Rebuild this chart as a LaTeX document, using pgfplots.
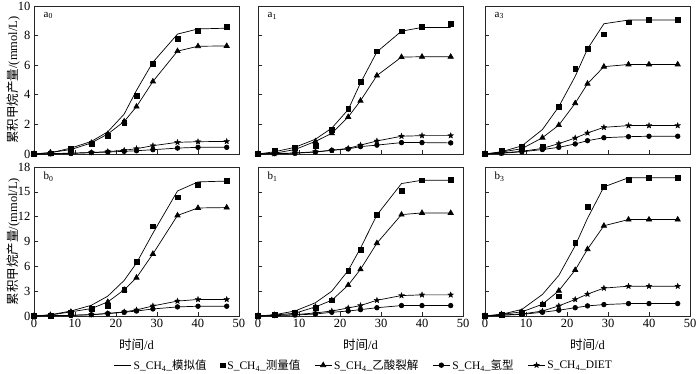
\documentclass[border=0pt]{standalone}
\usepackage{fontspec}
\setmainfont{Liberation Serif}
\newfontfamily\cjk{Noto Sans CJK SC}
\usepackage{pgfplots}
\pgfplotsset{compat=1.18}
\usepackage{pgfplotstable}

\pgfdeclareplotmark{fstar}{%
\pgfpathmoveto{\pgfpointpolar{90}{\pgfplotmarksize}}%
\pgfpathlineto{\pgfpointpolar{126}{0.42*\pgfplotmarksize}}%
\pgfpathlineto{\pgfpointpolar{162}{\pgfplotmarksize}}%
\pgfpathlineto{\pgfpointpolar{198}{0.42*\pgfplotmarksize}}%
\pgfpathlineto{\pgfpointpolar{234}{\pgfplotmarksize}}%
\pgfpathlineto{\pgfpointpolar{270}{0.42*\pgfplotmarksize}}%
\pgfpathlineto{\pgfpointpolar{306}{\pgfplotmarksize}}%
\pgfpathlineto{\pgfpointpolar{342}{0.42*\pgfplotmarksize}}%
\pgfpathlineto{\pgfpointpolar{18}{\pgfplotmarksize}}%
\pgfpathlineto{\pgfpointpolar{54}{0.42*\pgfplotmarksize}}%
\pgfpathclose\pgfusepathqfillstroke}

% t = time (d); m = model; s = measured; a = acetoclastic; h = hydrogenotrophic; d = DIET
\pgfplotstableread{
t m s a h d
0 0 0 0 0 0
4 0.08 0.05 0.10 0.01 0.02
9 0.40 0.35 0.30 0.04 0.06
14 0.85 0.70 0.75 0.09 0.10
18 1.50 1.25 1.35 0.13 0.16
22 2.70 2.10 2.20 0.18 0.25
25 4.30 3.95 3.20 0.22 0.36
29 6.20 6.10 4.90 0.29 0.56
35 8.10 7.80 6.95 0.40 0.79
40 8.45 8.35 7.28 0.45 0.83
47 8.50 8.58 7.30 0.45 0.85
}\tabAz
\pgfplotstableread{
t m s a h d
0 0 0 0 0 0
4 0.15 0.25 0.05 0.02 0.03
9 0.45 0.40 0.30 0.05 0.07
14 1.00 0.55 0.85 0.13 0.15
18 1.75 1.65 1.40 0.25 0.25
22 3.00 3.07 2.50 0.34 0.38
25 4.80 4.90 3.60 0.50 0.60
29 6.90 6.95 5.30 0.60 0.88
35 8.30 8.30 6.55 0.77 1.20
40 8.55 8.60 6.57 0.77 1.24
47 8.55 8.80 6.57 0.75 1.24
}\tabAo
\pgfplotstableread{
t m s a h d
0 0 0 0 0 0
4 0.15 0.25 0.13 0.05 0.07
9 0.55 0.47 0.36 0.15 0.18
14 1.65 0.50 1.10 0.30 0.38
18 3.20 3.17 1.95 0.45 0.70
22 5.25 5.77 3.43 0.68 1.08
25 7.10 7.10 4.75 0.90 1.42
29 8.80 8.10 5.90 1.10 1.80
35 9.05 8.90 6.05 1.17 1.92
40 9.05 9.07 6.05 1.20 1.92
47 9.05 9.07 6.05 1.20 1.92
}\tabAt
\pgfplotstableread{
t m s a h d
0 0 0 0 0 0
4 0.15 0.08 0.12 0.03 0.04
9 0.60 0.37 0.50 0.08 0.08
14 1.30 0.85 0.90 0.15 0.17
18 2.40 1.22 1.70 0.30 0.30
22 4.30 3.20 3.17 0.45 0.50
25 6.40 6.60 4.63 0.60 0.73
29 10.0 10.85 7.50 0.85 1.22
35 15.1 14.35 12.15 1.10 1.80
40 16.2 15.90 13.05 1.18 2.00
47 16.3 16.35 13.10 1.18 2.00
}\tabBz
\pgfplotstableread{
t m s a h d
0 0 0 0 0 0
4 0.15 0.16 0.12 0.05 0.08
9 0.60 0.45 0.33 0.12 0.16
14 1.60 0.97 1.10 0.24 0.37
18 3.00 1.90 1.90 0.45 0.60
22 5.50 5.48 3.73 0.60 0.97
25 8.20 8.00 5.64 0.77 1.26
29 12.2 12.25 8.80 1.00 1.90
35 16.0 15.10 12.25 1.26 2.47
40 16.4 16.40 12.45 1.26 2.55
47 16.4 16.50 12.45 1.26 2.55
}\tabBo
\pgfplotstableread{
t m s a h d
0 0 0 0 0 0
4 0.20 0.20 0.20 0.08 0.12
9 0.80 0.37 0.50 0.20 0.24
14 2.60 1.42 1.42 0.45 0.60
18 4.90 2.40 3.05 0.70 1.22
22 8.50 8.90 5.56 1.00 2.00
25 11.8 13.25 8.07 1.22 2.64
29 15.6 15.60 10.90 1.38 3.37
35 16.7 16.45 11.65 1.50 3.60
40 16.7 16.70 11.65 1.50 3.60
47 16.7 16.70 11.65 1.50 3.60
}\tabBt

\pgfplotsset{
  panel/.style={scale only axis, width=205pt, xmin=0, xmax=50, ymin=0,
    xtick={0,10,20,30,40,50}, tick pos=left, tick align=inside,
    major tick length=4pt,
    axis line style={black!85, line width=0.6pt},
    every tick/.style={black!85, line width=0.6pt},
    tick label style={font=\fontsize{12.5}{12.5}\selectfont},
    /pgf/number format/assume math mode=true, clip=false,
    every axis y label/.style={at={(axis description cs:-0.102,0.5)}, rotate=90, anchor=center, font=\fontsize{12.5}{14}\selectfont},
    every axis x label/.style={at={(axis description cs:0.5,-0.195)}, anchor=center, font=\fontsize{12.5}{14}\selectfont}},
  toprow/.style={panel, height=148pt, ymax=10, ytick={0,2,4,6,8,10}, xticklabels={}},
  botrow/.style={panel, height=149pt, ymax=18, ytick={0,3,6,9,12,15,18}, xlabel={{\cjk 时间}/d}},
  noy/.style={yticklabels={}},
  ylab/.style={ylabel={{\cjk 累积甲烷产量}/(mmol/L)}},
  mline/.style={black, line width=0.7pt, no markers},
  smark/.style={black, only marks, mark=square*, mark size=2.4pt},
  aline/.style={black, line width=0.7pt, mark=triangle*, mark size=3pt},
  hline/.style={black, line width=0.7pt, mark=*, mark size=2.3pt},
  dline/.style={black, line width=0.7pt, mark=fstar, mark size=3pt, mark options={line width=0.3pt}},
}
\newcommand\panelplots[1]{%
  \addplot[mline] table[x=t,y=m]{#1};
  \addplot[smark] table[x=t,y=s]{#1};
  \addplot[aline] table[x=t,y=a]{#1};
  \addplot[hline] table[x=t,y=h]{#1};
  \addplot[dline] table[x=t,y=d]{#1};
}
\newcommand\plab[1]{\node[anchor=west, font=\fontsize{11}{11}\selectfont] at (rel axis cs:0.03,0.935) {#1};}

\begin{document}
\begin{tikzpicture}
\useasboundingbox (0,0) rectangle (700pt,374pt);
% top row
\begin{axis}[toprow, ylab, at={(34pt,220pt)}, anchor=south west]
\panelplots{\tabAz}
\plab{a\textsubscript{0}}
\end{axis}
\begin{axis}[toprow, noy, at={(258pt,220pt)}, anchor=south west]
\panelplots{\tabAo}
\plab{a\textsubscript{1}}
\end{axis}
\begin{axis}[toprow, noy, at={(485pt,220pt)}, anchor=south west]
\panelplots{\tabAt}
\plab{a\textsubscript{3}}
\end{axis}
% bottom row
\begin{axis}[botrow, ylab, at={(34pt,58pt)}, anchor=south west]
\panelplots{\tabBz}
\plab{b\textsubscript{0}}
\end{axis}
\begin{axis}[botrow, noy, at={(258pt,58pt)}, anchor=south west,
  legend columns=5,
  legend style={at={(axis description cs:0.517,-0.33)}, anchor=center, draw=none, fill=none,
    font=\fontsize{11.5}{12}\selectfont,
    /tikz/every even column/.append style={column sep=12pt}}]
\panelplots{\tabBo}
\plab{b\textsubscript{1}}
\legend{S\_CH\textsubscript{4}\_{\cjk 模拟值}, S\_CH\textsubscript{4}\_{\cjk 测量值}, S\_CH\textsubscript{4}\_{\cjk 乙酸裂解}, S\_CH\textsubscript{4}\_{\cjk 氢型}, S\_CH\textsubscript{4}\_DIET}
\end{axis}
\begin{axis}[botrow, noy, at={(485pt,58pt)}, anchor=south west]
\panelplots{\tabBt}
\plab{b\textsubscript{3}}
\end{axis}
\end{tikzpicture}
\end{document}
